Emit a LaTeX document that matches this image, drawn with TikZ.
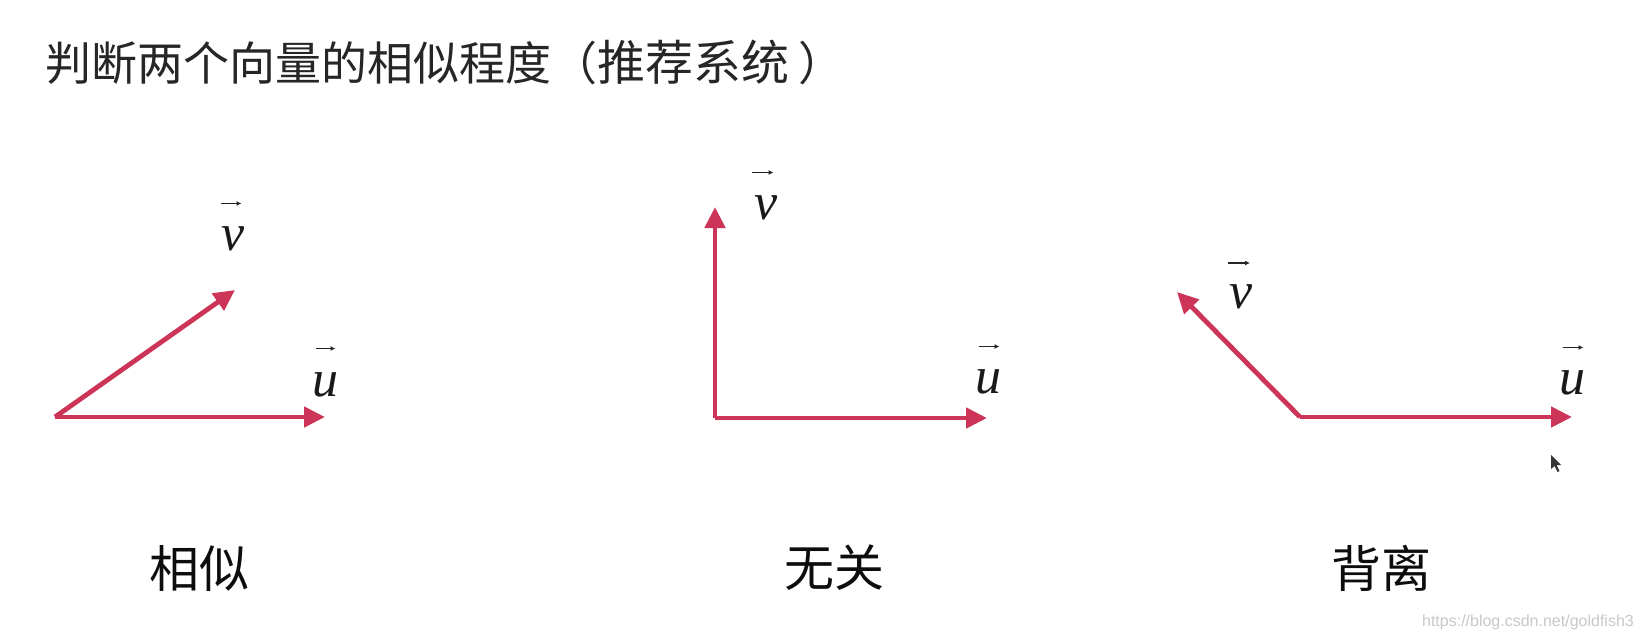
\documentclass[tikz,border=0pt]{standalone}
\usepackage{fontspec}
\newfontfamily\cjk{Noto Sans CJK SC}
\newfontfamily\wmfont{Liberation Sans}
\newfontfamily\letterfont{Liberation Serif}
\usetikzlibrary{arrows.meta}
\definecolor{vecred}{HTML}{CC3458}
\definecolor{titlegray}{HTML}{262626}
\definecolor{wmgray}{HTML}{C8C8C8}
\tikzset{
  vecarrow/.style={draw=vecred, line width=4.8pt, line join=miter, -{Triangle[length=21pt,width=20pt]}},
  veclabel/.style={inner sep=0pt, text=black!90, font=\letterfont\itshape\fontsize{52}{52}\selectfont},
  accent/.style={draw=black!85, line width=1.8pt, -{Latex[length=5pt,width=5pt]}},
  cnlabel/.style={inner sep=0pt, font=\cjk\fontsize{50}{50}\selectfont, text=black!95},
}
\begin{document}
\begin{tikzpicture}[x=1pt,y=-1pt]
\useasboundingbox (0,0) rectangle (1642,640);
\fill[white] (0,0) rectangle (1642,640);
% title
\node[inner sep=0pt, anchor=west, text=titlegray, font=\cjk\fontsize{46}{46}\selectfont] (title) at (45,62) {判断两个向量的相似程度（{\fontsize{48}{48}\selectfont 推荐系统}\hspace{9pt}）};
% diagram 1
\coordinate (o1) at (55,417);
\coordinate (u1) at (325,417);
\coordinate (v1) at (235,290);
\draw[vecarrow] (o1) -- (u1);
\draw[vecarrow] (o1) -- (v1);
\node[veclabel] (lv1) at (233.5,238.5) {v};
\draw[accent] ([xshift=-13pt,yshift=35pt]lv1.center) -- ([xshift=8pt,yshift=35pt]lv1.center);
\node[veclabel] (lu1) at (325.5,384.5) {u};
\draw[accent] ([xshift=-10pt,yshift=36pt]lu1.center) -- ([xshift=10pt,yshift=36pt]lu1.center);
\node[cnlabel] (l1) at (199,568) {相似};
% diagram 2
\coordinate (o2) at (715,418);
\coordinate (u2) at (987,418);
\coordinate (v2) at (715,207);
\draw[vecarrow] (o2) -- (u2);
\draw[vecarrow] (o2) -- (v2);
\node[veclabel] (lv2) at (766.5,207.5) {v};
\draw[accent] ([xshift=-15pt,yshift=35pt]lv2.center) -- ([xshift=7pt,yshift=35pt]lv2.center);
\node[veclabel] (lu2) at (988.5,381.5) {u};
\draw[accent] ([xshift=-10pt,yshift=35pt]lu2.center) -- ([xshift=11pt,yshift=35pt]lu2.center);
\node[cnlabel] (l2) at (834,568) {无关};
% diagram 3
\coordinate (o3) at (1300,417);
\coordinate (u3) at (1572,417);
\coordinate (v3) at (1177,292);
\draw[vecarrow] (o3) -- (u3);
\draw[vecarrow] (o3) -- (v3);
\node[veclabel] (lv3) at (1241,297) {v};
\draw[accent] ([xshift=-13pt,yshift=34pt]lv3.center) -- ([xshift=9pt,yshift=34pt]lv3.center);
\node[veclabel] (lu3) at (1572.5,382.5) {u};
\draw[accent] ([xshift=-10pt,yshift=35pt]lu3.center) -- ([xshift=11pt,yshift=35pt]lu3.center);
\node[cnlabel] (l3) at (1381.5,568) {背离};
% cursor
\fill[black!80] (1551,455) -- (1551,469) -- (1554.5,466) -- (1557.5,472) -- (1559.5,471) -- (1556.5,465) -- (1561,465) -- cycle;
% watermark
\node[inner sep=0pt, anchor=east, text=wmgray, font=\wmfont\fontsize{16}{16}\selectfont] (wm) at (1634,622) {https://blog.csdn.net/goldfish3};
\end{tikzpicture}
\end{document}
